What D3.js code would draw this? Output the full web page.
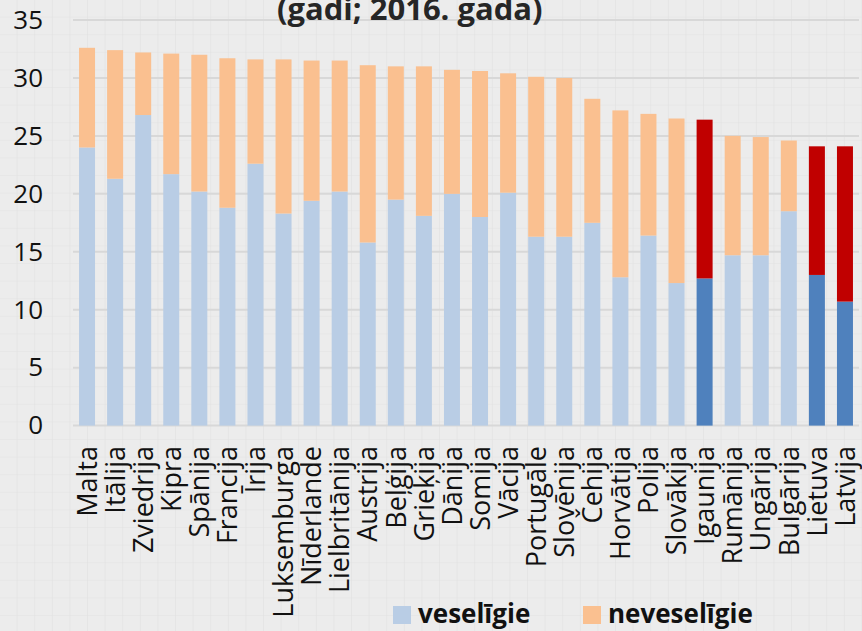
<!DOCTYPE html>
<html>
<head>
<meta charset="utf-8">
<script src="https://cdn.jsdelivr.net/npm/d3@7"></script>
<style>
	body { margin: 0; background: #ebebeb; }
	text { font-family: "Open Sans", "Noto Sans", sans-serif; }
</style>
</head>
<body>
<script>
var countries = ["Malta", "Itālija", "Zviedrija", "Kipra", "Spānija", "Francija", "Īrija",
	"Luksemburga", "Nīderlande", "Lielbritānija", "Austrija", "Beļģija", "Grieķija", "Dānija",
	"Somija", "Vācija", "Portugāle", "Slovēnija", "Čehija", "Horvātija", "Polija", "Slovākija",
	"Igaunija", "Rumānija", "Ungārija", "Bulgārija", "Lietuva", "Latvija"];
// veselīgie dzīves gadi
var healthy = [24.0, 21.3, 26.8, 21.7, 20.2, 18.8, 22.6, 18.3, 19.4, 20.2, 15.8, 19.5, 18.1, 20.0,
	18.0, 20.1, 16.3, 16.3, 17.5, 12.8, 16.4, 12.3, 12.7, 14.7, 14.7, 18.5, 13.0, 10.7];
// kopējais (veselīgie + neveselīgie)
var total = [32.6, 32.4, 32.2, 32.1, 32.0, 31.7, 31.6, 31.6, 31.5, 31.5, 31.1, 31.0, 31.0, 30.7,
	30.6, 30.4, 30.1, 30.0, 28.2, 27.2, 26.9, 26.5, 26.4, 25.0, 24.9, 24.6, 24.1, 24.1];
var highlighted = ["Igaunija", "Lietuva", "Latvija"];
var yTicks = [0, 5, 10, 15, 20, 25, 30, 35];
var seriesNames = ["veselīgie", "neveselīgie"];

var width = 862, height = 631;
var svg = d3.select("body").append("svg")
	.attr("width", width)
	.attr("height", height);

// background texture
var pat = svg.append("defs").append("pattern")
	.attr("id", "tex")
	.attr("width", 17.6).attr("height", 17.6)
	.attr("patternUnits", "userSpaceOnUse");
pat.append("rect").attr("width", 17.6).attr("height", 17.6).attr("fill", "#ececec");
pat.append("path").attr("d", "M17.6 0V17.6M0 17.6H17.6")
	.attr("stroke", "#e2e2e2").attr("stroke-width", 1.2);
svg.append("rect").attr("width", width).attr("height", height).attr("fill", "url(#tex)");

var x = d3.scaleBand()
	.domain(countries)
	.range([73, 859])
	.paddingInner(0.43)
	.paddingOuter(0.215);

var y = d3.scaleLinear()
	.domain([0, 35])
	.range([425.6, 20]);

/*************************************************/
// gridlines
svg.append("g")
	.selectAll("line")
	.data(yTicks)
	.enter().append("line")
	.attr("x1", 73).attr("x2", 859)
	.attr("y1", function (d) { return y(d) })
	.attr("y2", function (d) { return y(d) })
	.attr("stroke", "#d8d8d8")
	.attr("stroke-width", 2);

// y axis
var yAxis = svg.append("g")
	.attr("transform", "translate(43,0)")
	.call(d3.axisLeft(y).tickValues(yTicks).tickSize(0).tickPadding(0));
yAxis.select(".domain").remove();
yAxis.selectAll("text")
	.style("font-family", "'Open Sans', sans-serif")
	.style("font-size", "26px")
	.attr("fill", "#111");

/*************************************************/
// bars
var bars = svg.append("g")
	.selectAll("g")
	.data(countries)
	.enter().append("g");

bars.append("rect")
	.attr("x", function (d) { return x(d) })
	.attr("width", x.bandwidth())
	.attr("y", function (d, i) { return y(healthy[i]) })
	.attr("height", function (d, i) { return y(0) - y(healthy[i]) })
	.attr("fill", function (d) { return highlighted.indexOf(d) >= 0 ? "#4f81bd" : "#b9cde5" });

bars.append("rect")
	.attr("x", function (d) { return x(d) })
	.attr("width", x.bandwidth())
	.attr("y", function (d, i) { return y(total[i]) })
	.attr("height", function (d, i) { return y(healthy[i]) - y(total[i]) })
	.attr("fill", function (d) { return highlighted.indexOf(d) >= 0 ? "#c00000" : "#fac090" });

// x labels
var xAxis = svg.append("g")
	.attr("transform", "translate(0,446)")
	.call(d3.axisBottom(x).tickSize(0).tickPadding(0));
xAxis.select(".domain").remove();
xAxis.selectAll("text")
	.style("font-family", "'Open Sans', sans-serif")
	.style("font-size", "27px")
	.attr("fill", "#111")
	.attr("text-anchor", "end")
	.attr("transform", "rotate(-90)")
	.attr("x", 0)
	.attr("y", 0)
	.attr("dy", "0.36em");

/*************************************************/
// title (only the lower line is visible, as in the source)
svg.append("text")
	.attr("x", 277)
	.attr("y", 20)
	.attr("fill", "#262626")
	.style("font-size", "31px")
	.style("font-weight", "bold")
	.text("(gadi; 2016. gada)");

// legend
var legendX = [393, 583];
var legendColors = ["#b9cde5", "#fac090"];
var leg = svg.append("g")
	.selectAll("g")
	.data(seriesNames)
	.enter().append("g")
	.attr("transform", function (d, i) { return "translate(" + legendX[i] + ",606)" });
leg.append("rect")
	.attr("width", 18).attr("height", 18)
	.attr("fill", function (d, i) { return legendColors[i] });
leg.append("text")
	.attr("x", 25)
	.attr("y", 17)
	.attr("fill", "#111")
	.style("font-size", "26px")
	.style("font-weight", "bold")
	.text(function (d) { return d });
</script>
</body>
</html>
